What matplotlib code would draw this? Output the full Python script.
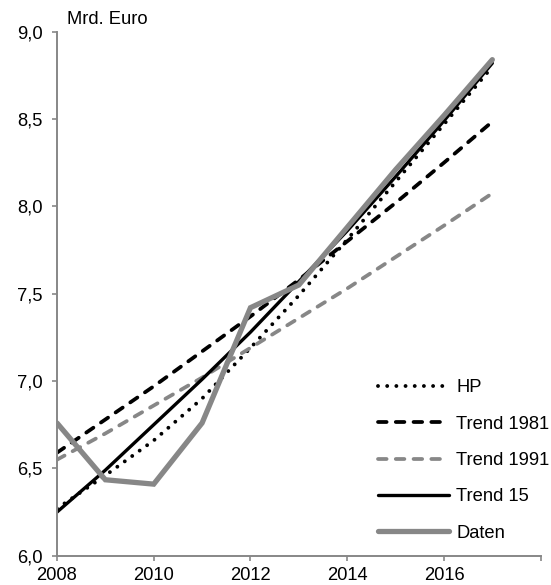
import matplotlib
matplotlib.use("Agg")
import matplotlib.pyplot as plt

plt.rcParams['font.family'] = ['Liberation Sans', 'DejaVu Sans']
plt.rcParams['lines.scale_dashes'] = False

years = [2008, 2009, 2010, 2011, 2012, 2013, 2014, 2015, 2016, 2017]
hp = [6.27, 6.46, 6.66, 6.90, 7.19, 7.49, 7.81, 8.14, 8.47, 8.80]
trend_1981 = [6.59, 6.78, 6.97, 7.17, 7.37, 7.58, 7.80, 8.02, 8.25, 8.485]
trend_1991 = [6.55, 6.70, 6.86, 7.02, 7.19, 7.36, 7.53, 7.71, 7.89, 8.075]
trend_15 = [6.25, 6.49, 6.75, 7.01, 7.28, 7.57, 7.86, 8.17, 8.49, 8.82]
daten = [6.76, 6.435, 6.41, 6.76, 7.42, 7.55, 7.88, 8.21, 8.52, 8.84]

x_ticks = [2008, 2010, 2012, 2014, 2016, 2018]
x_ticklabels = ['2008', '2010', '2012', '2014', '2016', '']
y_ticks = [6.0, 6.5, 7.0, 7.5, 8.0, 8.5, 9.0]
y_ticklabels = ['6,0', '6,5', '7,0', '7,5', '8,0', '8,5', '9,0']

FS = 13.2

fig = plt.figure(figsize=(5.51, 5.85), dpi=100)
ax = fig.add_axes([0.1034, 0.05, 0.8779, 0.8958])

gray = '#878787'
ax.plot(years, hp, color='black', lw=2.8, dashes=(0.01, 6.6), dash_capstyle='round', label='HP')
ax.plot(years, trend_1981, color='black', lw=2.7, dashes=(6.2, 6.6), dash_capstyle='round', label='Trend 1981')
ax.plot(years, trend_1991, color=gray, lw=2.7, dashes=(6.2, 6.6), dash_capstyle='round', label='Trend 1991')
ax.plot(years, trend_15, color='black', lw=2.4, solid_capstyle='round', label='Trend 15')
ax.plot(years, daten, color=gray, lw=3.8, solid_capstyle='round', solid_joinstyle='miter', label='Daten')

ax.set_xlim(2008, 2018)
ax.set_ylim(6.0, 9.0)
ax.set_xticks(x_ticks)
ax.set_xticklabels(x_ticklabels)
ax.set_yticks(y_ticks)
ax.set_yticklabels(y_ticklabels)

for s in ['top', 'right']:
    ax.spines[s].set_visible(False)
for s in ['left', 'bottom']:
    ax.spines[s].set_color(gray)
    ax.spines[s].set_linewidth(1.4)
ax.tick_params(axis='both', colors=gray, labelcolor='black', labelsize=FS, length=3.6, width=1.2)
ax.tick_params(axis='y', pad=6.5)
ax.tick_params(axis='x', pad=4.5)

fig.text(67 / 551, 1 - 19 / 585, 'Mrd. Euro', fontsize=FS, ha='left', va='center')

leg = ax.legend(loc='upper left', bbox_to_anchor=(0.664, 0.337), frameon=False,
                fontsize=FS, handlelength=3.85, handletextpad=0.42, labelspacing=1.06,
                borderaxespad=0, borderpad=0)

fig.savefig('out.png', dpi=100)
